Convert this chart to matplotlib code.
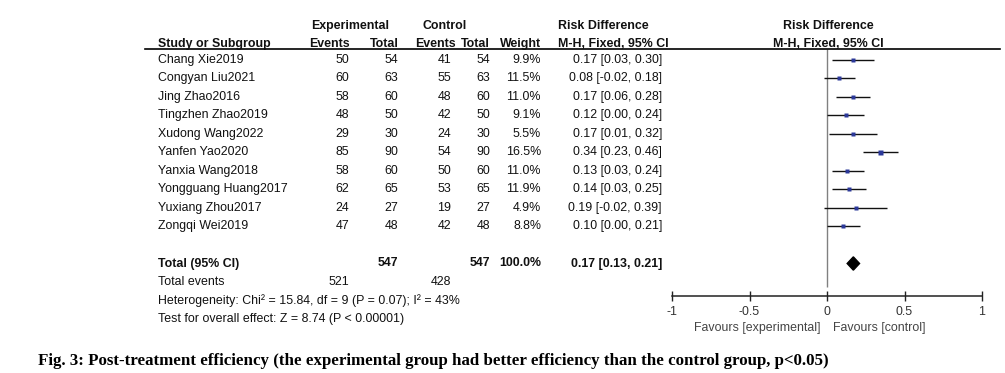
import matplotlib.pyplot as plt
import matplotlib.transforms as mtransforms
import numpy as np

studies = ['Chang Xie2019', 'Congyan Liu2021', 'Jing Zhao2016', 'Tingzhen Zhao2019',
           'Xudong Wang2022', 'Yanfen Yao2020', 'Yanxia Wang2018', 'Yongguang Huang2017',
           'Yuxiang Zhou2017', 'Zongqi Wei2019']
exp_events = [50, 60, 58, 48, 29, 85, 58, 62, 24, 47]
exp_total = [54, 63, 60, 50, 30, 90, 60, 65, 27, 48]
ctl_events = [41, 55, 48, 42, 24, 54, 50, 53, 19, 42]
ctl_total = [54, 63, 60, 50, 30, 90, 60, 65, 27, 48]
weights = [9.9, 11.5, 11.0, 9.1, 5.5, 16.5, 11.0, 11.9, 4.9, 8.8]
rd = [0.17, 0.08, 0.17, 0.12, 0.17, 0.34, 0.13, 0.14, 0.19, 0.10]
rd_lo = [0.03, -0.02, 0.06, 0.00, 0.01, 0.23, 0.03, 0.03, -0.02, 0.00]
rd_hi = [0.30, 0.18, 0.28, 0.24, 0.32, 0.46, 0.24, 0.25, 0.39, 0.21]

total_exp, total_ctl = 547, 547
events_exp, events_ctl = 521, 428
pooled, pooled_lo, pooled_hi = 0.17, 0.13, 0.21
heterogeneity = 'Heterogeneity: Chi² = 15.84, df = 9 (P = 0.07); I² = 43%'
overall = 'Test for overall effect: Z = 8.74 (P < 0.00001)'
xticks = [-1, -0.5, 0, 0.5, 1]
xticklabels = ['-1', '-0.5', '0', '0.5', '1']
caption = ('Fig. 3: Post-treatment efficiency (the experimental group had better '
           'efficiency than the control group, p<0.05)')

plt.rcParams['font.family'] = ['Liberation Sans', 'DejaVu Sans']
W, H = 1005, 373
fs = 8.9
fig = plt.figure(figsize=(W / 100, H / 100), dpi=100)

# forest axes: rows are y units, row 0 sits at pixel 60, 18.5 px per row
row0, step = 60, 18.5
ax = fig.add_axes([672 / W, 0, 310 / W, 1])
ax.set_xlim(-1, 1)
ax.set_ylim((H - row0) / step, -row0 / step)
ax.axis('off')

rows = np.arange(len(studies))
total_row = len(studies) + 1

ax.vlines(0, (49 - row0) / step, (287 - row0) / step, color='#808080', lw=1)
ax.hlines(rows, rd_lo, rd_hi, color='#111111', lw=1)
for r, x, w in zip(rows, rd, weights):
    ax.plot(x, r, 's', color='#2b3899', ms=1.6 + 2.0 * np.sqrt(w / 16.5), mec='none')
ax.fill([pooled_lo, pooled, pooled_hi, pooled],
        [total_row, total_row - 0.36, total_row, total_row + 0.36], color='black')

# x axis
axx = fig.add_axes([672 / W, (H - 296) / H, 310 / W, 0.001])
axx.set_xlim(-1, 1)
for s in ['top', 'left', 'right']:
    axx.spines[s].set_visible(False)
axx.spines['bottom'].set_color('#222222')
axx.spines['bottom'].set_linewidth(1.1)
axx.set_yticks([])
axx.set_xticks(xticks)
axx.set_xticklabels(xticklabels)
axx.tick_params(axis='x', direction='inout', length=7, width=1, color='#222222',
                labelsize=fs, labelcolor='#333333', pad=4)
axx.patch.set_visible(False)

tr = mtransforms.blended_transform_factory(fig.transFigure, ax.transData)


def put(px, row, s, ha='right', bold=False, color='#111111'):
    ax.text(px / W, row, s, transform=tr, ha=ha, va='center', fontsize=fs,
            fontweight='bold' if bold else 'normal', color=color)


# headers
put(350, -1.85, 'Experimental', ha='center', bold=True)
put(445, -1.85, 'Control', ha='center', bold=True)
put(558, -1.85, 'Risk Difference', ha='left', bold=True)
put(828, -1.85, 'Risk Difference', ha='center', bold=True)
put(158, -0.85, 'Study or Subgroup', ha='left', bold=True)
put(350, -0.85, 'Events', bold=True)
put(399, -0.85, 'Total', bold=True)
put(456, -0.85, 'Events', bold=True)
put(490, -0.85, 'Total', bold=True)
put(541, -0.85, 'Weight', bold=True)
put(558, -0.85, 'M-H, Fixed, 95% CI', ha='left', bold=True)
put(828, -0.85, 'M-H, Fixed, 95% CI', ha='center', bold=True)
ax.plot([145 / W, 1000 / W], [(49.5 - row0) / step] * 2, transform=tr,
        color='black', lw=1.2, clip_on=False)

for r in rows:
    put(158, r, studies[r], ha='left')
    put(349, r, str(exp_events[r]))
    put(398, r, str(exp_total[r]))
    put(451, r, str(ctl_events[r]))
    put(490, r, str(ctl_total[r]))
    put(541, r, f'{weights[r]:.1f}%')
    put(662, r, f'{rd[r]:.2f} [{rd_lo[r]:.2f}, {rd_hi[r]:.2f}]')

put(158, total_row, 'Total (95% CI)', ha='left', bold=True)
put(398, total_row, str(total_exp), bold=True)
put(490, total_row, str(total_ctl), bold=True)
put(541, total_row, '100.0%', bold=True)
put(662, total_row, f'{pooled:.2f} [{pooled_lo:.2f}, {pooled_hi:.2f}]', bold=True)
put(158, total_row + 1, 'Total events', ha='left')
put(349, total_row + 1, str(events_exp))
put(451, total_row + 1, str(events_ctl))
put(158, total_row + 2, heterogeneity, ha='left')
put(158, total_row + 3, overall, ha='left')

fig.text(820 / W, 1 - 328 / H, 'Favours [experimental]', ha='right', va='center',
         fontsize=fs, color='#444444')
fig.text(833 / W, 1 - 328 / H, 'Favours [control]', ha='left', va='center',
         fontsize=fs, color='#444444')

fig.text(38 / W, 1 - 365 / H, caption, ha='left', va='baseline', fontsize=12.2,
         fontweight='bold', family=['Liberation Serif', 'DejaVu Serif'])

fig.savefig('out.png', dpi=100)
